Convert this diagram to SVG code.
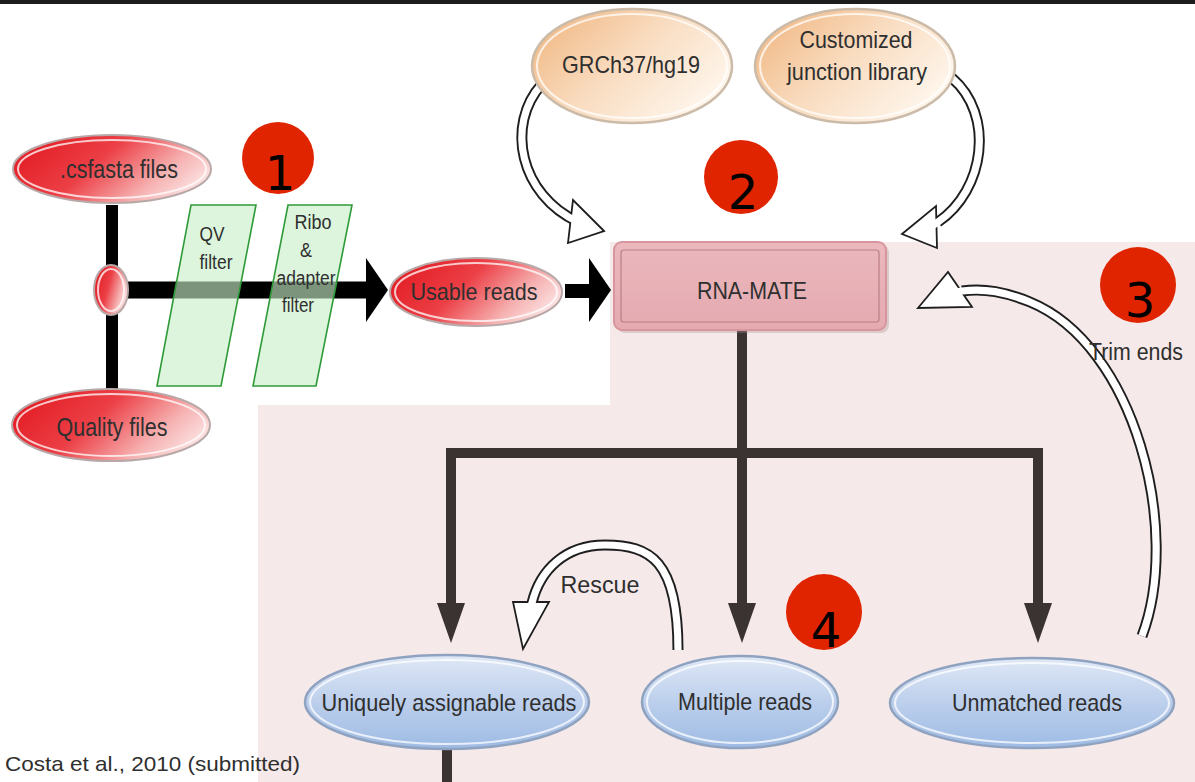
<svg xmlns="http://www.w3.org/2000/svg" width="1195" height="782" viewBox="0 0 1195 782">
  <defs>
    <style>
      .lbl { font-family: "Liberation Sans", Arial, sans-serif; fill: #2f2f2f; text-anchor: middle; }
      .small { font-size: 20px; }
      .digit { font-family: "DejaVu Sans", sans-serif; font-size: 48px; fill: #000; text-anchor: middle; }
      .badge { fill: #e02400; }
      .rim { fill: none; stroke: #ffffff; stroke-opacity: 0.75; stroke-width: 2; }
      .redNode { fill: url(#gRed); stroke: #b9a8a8; stroke-width: 2; }
      .peachNode { fill: url(#gPeach); stroke: #cbbba8; stroke-width: 2.5; }
      .blueNode { fill: url(#gBlue); stroke: #8fa3c1; stroke-width: 2.5; }
      .filter { fill: #c6efc6; fill-opacity: 0.62; stroke: #2f9a38; stroke-width: 1.6; }
      .tree { fill: none; stroke: #3b3232; stroke-width: 10; stroke-linejoin: miter; }
      .treeHead { fill: #3b3232; }
      .hollowOut { fill: none; stroke: #1e1e1e; stroke-width: 11; stroke-linecap: butt; }
      .hollowIn { fill: none; stroke: #ffffff; stroke-width: 7.2; stroke-linecap: butt; }
      .hollowHead { fill: #ffffff; stroke: #1e1e1e; stroke-width: 1.8; stroke-linejoin: miter; }
    </style>
    <linearGradient id="gRed" x1="0" y1="0.3" x2="1" y2="0.7">
      <stop offset="0" stop-color="#e31c24"/>
      <stop offset="0.4" stop-color="#ec3f46"/>
      <stop offset="0.75" stop-color="#f6b2b2"/>
      <stop offset="1" stop-color="#fde9e9"/>
    </linearGradient>
    <linearGradient id="gPeach" x1="0" y1="0.2" x2="1" y2="0.8">
      <stop offset="0" stop-color="#f1b985"/>
      <stop offset="0.45" stop-color="#f9dcc0"/>
      <stop offset="1" stop-color="#fffaf3"/>
    </linearGradient>
    <linearGradient id="gBlue" x1="0" y1="0" x2="0" y2="1">
      <stop offset="0" stop-color="#dfe8f6"/>
      <stop offset="0.5" stop-color="#bccfec"/>
      <stop offset="1" stop-color="#9ebbe4"/>
    </linearGradient>
    <linearGradient id="gBox" x1="0" y1="0" x2="0" y2="1">
      <stop offset="0" stop-color="#ebb8bd"/>
      <stop offset="1" stop-color="#e4aab0"/>
    </linearGradient>
  </defs>

  <!-- page -->
  <rect x="0" y="0" width="1195" height="782" fill="#ffffff"/>
  <path d="M610,242 H1195 V782 H258 V405 H610 Z" fill="#f5e9e9"/>
  <rect x="0" y="0" width="1195" height="4" fill="#1c1c1c"/>

  <!-- connectors -->
  <g id="connectors">
    <!-- input reads: files join and run through the filters -->
    <path d="M112,205 V392" stroke="#000" stroke-width="12" fill="none"/>
    <path d="M120,290 H368" stroke="#000" stroke-width="17" fill="none"/>
    <polygon points="366,258 388,290 366,322" fill="#000"/>
    <path d="M565,291 H592" stroke="#000" stroke-width="14" fill="none"/>
    <polygon points="589,258 611,290 589,322" fill="#000"/>

    <!-- references into RNA-MATE -->
    <path class="hollowOut" d="M542,84 C505,125 520,195 578,222"/>
    <polygon class="hollowHead" points="604,231 573,200 568,243"/>
    <path class="hollowIn" d="M542,84 C505,125 520,195 578,222 L584,224"/>

    <path class="hollowOut" d="M952,78 C995,115 985,190 938,222"/>
    <polygon class="hollowHead" points="902,234 936,206 937,248"/>
    <path class="hollowIn" d="M952,78 C995,115 985,190 938,222 L932,226"/>

    <!-- trim ends loop back -->
    <path class="hollowOut" stroke-width="10" d="M1142,636 C1182,530 1135,345 1030,302 C1005,292 985,288 962,291"/>
    <polygon class="hollowHead" points="918,308 948,272 972,307"/>
    <path class="hollowIn" stroke-width="6.4" stroke="#efe9e9" d="M1142,636 C1182,530 1135,345 1030,302 C1005,292 985,288 962,291 L955,292"/>

    <!-- mapping outcome tree -->
    <path class="tree" d="M742,330 V606"/>
    <path class="tree" d="M451,606 V453 H1038 V606"/>
    <polygon class="treeHead" points="728,603 756,603 742,643"/>
    <polygon class="treeHead" points="437,603 465,603 451,643"/>
    <polygon class="treeHead" points="1024,603 1052,603 1038,643"/>
    <path class="tree" d="M447,748 V782"/>

    <!-- rescue of multiple reads -->
    <path class="hollowOut" d="M678,650 C678,560 650,545 605,545 C565,545 540,570 532,603"/>
    <polygon class="hollowHead" points="513,602 549,602 523,649"/>
    <path class="hollowIn" d="M678,650 C678,560 650,545 605,545 C565,545 540,570 532,603 L530,609"/>
  </g>

  <!-- input files -->
  <g id="node-csfasta">
    <ellipse class="redNode" cx="112" cy="169" rx="99" ry="34"/>
    <ellipse class="rim" cx="112" cy="169" rx="94" ry="29"/>
    <text class="lbl" x="119" y="178" font-size="25" textLength="118" lengthAdjust="spacingAndGlyphs">.csfasta files</text>
  </g>
  <g id="node-quality">
    <ellipse class="redNode" cx="111" cy="425" rx="99" ry="36"/>
    <ellipse class="rim" cx="111" cy="425" rx="94" ry="31"/>
    <text class="lbl" x="112" y="436" font-size="25" textLength="111" lengthAdjust="spacingAndGlyphs">Quality files</text>
  </g>
  <g id="node-join">
    <ellipse class="redNode" cx="111" cy="290" rx="17" ry="25"/>
    <ellipse class="rim" cx="111" cy="290" rx="13" ry="21"/>
  </g>

  <!-- filters -->
  <g id="node-qv-filter">
    <polygon class="filter" points="191,205 256,205 221,386 157,386"/>
    <text class="lbl small" x="212" y="241" textLength="25" lengthAdjust="spacingAndGlyphs">QV</text>
    <text class="lbl small" x="216" y="269" textLength="33" lengthAdjust="spacingAndGlyphs">filter</text>
  </g>
  <g id="node-ribo-filter">
    <polygon class="filter" points="288,205 352,205 316,386 253,386"/>
    <text class="lbl small" x="313" y="229" textLength="37" lengthAdjust="spacingAndGlyphs">Ribo</text>
    <text class="lbl small" x="306" y="257" textLength="12" lengthAdjust="spacingAndGlyphs">&amp;</text>
    <text class="lbl small" x="306" y="285" textLength="59" lengthAdjust="spacingAndGlyphs">adapter</text>
    <text class="lbl small" x="298" y="312" textLength="32" lengthAdjust="spacingAndGlyphs">filter</text>
  </g>

  <g id="node-usable">
    <ellipse class="redNode" cx="476" cy="292" rx="86" ry="34"/>
    <ellipse class="rim" cx="476" cy="292" rx="81" ry="29"/>
    <text class="lbl" x="474" y="300" font-size="24" textLength="127" lengthAdjust="spacingAndGlyphs">Usable reads</text>
  </g>

  <!-- references -->
  <g id="node-grch37">
    <ellipse class="peachNode" cx="632" cy="66" rx="100" ry="57"/>
    <ellipse class="rim" cx="632" cy="66" rx="95" ry="52"/>
    <text class="lbl" x="631" y="73" font-size="24" textLength="138" lengthAdjust="spacingAndGlyphs">GRCh37/hg19</text>
  </g>
  <g id="node-junctions">
    <ellipse class="peachNode" cx="855" cy="66" rx="100" ry="57"/>
    <ellipse class="rim" cx="855" cy="66" rx="95" ry="52"/>
    <text class="lbl" x="856" y="48" font-size="24" textLength="113" lengthAdjust="spacingAndGlyphs">Customized</text>
    <text class="lbl" x="857" y="80" font-size="24" textLength="140" lengthAdjust="spacingAndGlyphs">junction library</text>
  </g>

  <g id="node-rnamate">
    <rect x="617" y="245" width="272" height="88" rx="8" fill="#b08f92" opacity="0.35"/>
    <rect x="614" y="242" width="272" height="88" rx="8" fill="url(#gBox)" stroke="#d7969d" stroke-width="2"/>
    <rect x="621" y="250" width="258" height="72" rx="3" fill="none" stroke="#b97f86" stroke-width="1.2"/>
    <text class="lbl" x="752" y="299" font-size="23" textLength="110" lengthAdjust="spacingAndGlyphs">RNA-MATE</text>
  </g>

  <!-- outcomes -->
  <g id="node-unique">
    <ellipse class="blueNode" cx="447" cy="702" rx="142" ry="47"/>
    <ellipse class="rim" cx="447" cy="702" rx="137" ry="42"/>
    <text class="lbl" x="449" y="711" font-size="24" textLength="255" lengthAdjust="spacingAndGlyphs">Uniquely assignable reads</text>
  </g>
  <g id="node-multiple">
    <ellipse class="blueNode" cx="740" cy="702" rx="98" ry="46"/>
    <ellipse class="rim" cx="740" cy="702" rx="93" ry="41"/>
    <text class="lbl" x="745" y="710" font-size="24" textLength="134" lengthAdjust="spacingAndGlyphs">Multiple reads</text>
  </g>
  <g id="node-unmatched">
    <ellipse class="blueNode" cx="1032" cy="703" rx="142" ry="45"/>
    <ellipse class="rim" cx="1032" cy="703" rx="137" ry="40"/>
    <text class="lbl" x="1037" y="711" font-size="24" textLength="170" lengthAdjust="spacingAndGlyphs">Unmatched reads</text>
  </g>

  <!-- edge labels -->
  <g id="labels">
    <text class="lbl" x="600" y="593" font-size="23" textLength="79" lengthAdjust="spacingAndGlyphs">Rescue</text>
    <text class="lbl" x="1089" y="360" font-size="23" style="text-anchor:start" textLength="94" lengthAdjust="spacingAndGlyphs">Trim ends</text>
    <text class="lbl" x="5" y="771" font-size="21" style="text-anchor:start" textLength="295" lengthAdjust="spacingAndGlyphs">Costa et al., 2010 (submitted)</text>
  </g>

  <!-- step badges -->
  <g id="badge-1">
    <circle class="badge" cx="278" cy="158" r="36"/>
    <text class="digit" x="280" y="190">1</text>
  </g>
  <g id="badge-2">
    <circle class="badge" cx="741" cy="177" r="37"/>
    <text class="digit" x="743" y="209">2</text>
  </g>
  <g id="badge-3">
    <circle class="badge" cx="1138" cy="285" r="38"/>
    <text class="digit" x="1140" y="317">3</text>
  </g>
  <g id="badge-4">
    <circle class="badge" cx="824" cy="612" r="38"/>
    <text class="digit" x="826" y="647">4</text>
  </g>
</svg>
